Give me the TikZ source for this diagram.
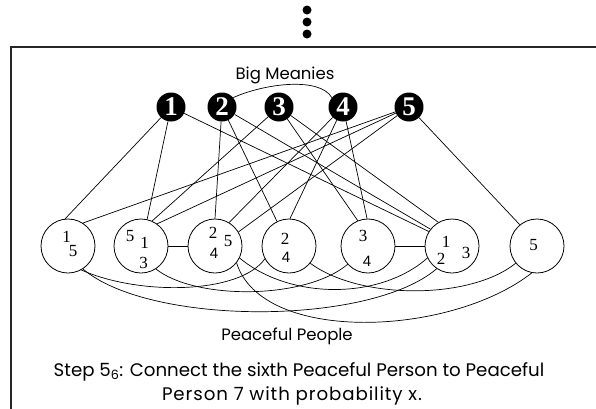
\documentclass[tikz,border=0pt]{standalone}
\usepackage{fontspec}
\setmainfont{Liberation Serif}
\newfontfamily\gothic{Poppins}
\newfontfamily\gothicwide[LetterSpace=5]{Poppins}
\newfontfamily\arialf{Liberation Sans}
\begin{document}
\begin{tikzpicture}[x=1pt,y=-1pt,
  meanie/.style={circle,fill=black,minimum size=29pt,inner sep=0pt,text=white,
                 font=\bfseries\fontsize{27}{27}\selectfont},
  person/.style={circle,draw=black,line width=0.8pt,minimum size=54pt,inner sep=0pt},
  digit/.style={inner sep=0pt,font=\fontsize{17}{17}\selectfont},
  sdigit/.style={inner sep=0pt,font=\arialf\fontsize{15}{15}\selectfont},
  caption/.style={font=\gothic\fontsize{16.5}{24}\selectfont,inner sep=0pt,anchor=base},
  stepline/.style={font=\gothic\fontsize{18.2}{24}\selectfont,inner sep=0pt,anchor=base},
  link/.style={line width=0.7pt},
  dot/.style={circle,fill=black,minimum size=9pt,inner sep=0pt},
]
\useasboundingbox (0,0) rectangle (596,408);

% continuation dots
\node[dot] (d1) at (307,10) {};
\node[dot] (d2) at (307,22) {};
\node[dot] (d3) at (307,34) {};

% open frame
\draw[line width=1.1pt,black!85] (11,410) -- (11,47) -- (598,47);

% big meanies
\node[caption] (bmlabel) at (285,79) {Big Meanies};
\node[meanie] (m1) at (171,107) {1};
\node[meanie] (m2) at (222,107) {2};
\node[meanie] (m3) at (279,107) {3};
\node[meanie] (m4) at (343,107) {4};
\node[meanie] (m5) at (409,107) {5};
\draw[link] (m2.40) .. controls (266,83) and (320,77) .. (m4.140);

% peaceful people
\node[person] (p1) at (68,246) {};
\node[person] (p2) at (141,246) {};
\node[person] (p3) at (215,246) {};
\node[person] (p4) at (289,246) {};
\node[person] (p5) at (368,246) {};
\node[person] (p6) at (452,246) {};
\node[person] (p7) at (537,246) {};

% which meanies each person knows
\node[digit] (p1a) at (66.5,237) {1};
\node[digit] (p1b) at (73,251) {5};
\node[digit] (p2a) at (130,236) {5};
\node[digit] (p2b) at (144.5,242.5) {1};
\node[digit] (p2c) at (143.5,262.5) {3};
\node[digit] (p3a) at (213,232.5) {2};
\node[digit] (p3b) at (228,241.5) {5};
\node[sdigit] (p3c) at (214,253.5) {4};
\node[digit] (p4a) at (285,239) {2};
\node[sdigit] (p4b) at (286,257.5) {4};
\node[digit] (p5a) at (363,235.5) {3};
\node[sdigit] (p5b) at (367,261) {4};
\node[digit] (p6a) at (446,242) {1};
\node[digit] (p6b) at (441,258.5) {2};
\node[digit] (p6c) at (466,253) {3};
\node[digit] (p7a) at (533.5,245.5) {5};

% meanie -- person links
\draw[link] (m1) -- (p1.96);
\draw[link] (m1) -- (p2.77);
\draw[link] (m1) -- (p6.148);
\draw[link] (m2) -- (p3.90);
\draw[link] (m2) -- (p4.116);
\draw[link] (m2) -- (p6.142);
\draw[link] (m3) -- (p2.66);
\draw[link] (m3) -- (p5.112);
\draw[link] (m3) -- (p6.120);
\draw[link] (m4) -- (p3.59);
\draw[link] (m4) -- (p4.88);
\draw[link] (m4) -- (p5.92);
\draw[link] (m5) -- (p1.57);
\draw[link] (m5) -- (p2.54);
\draw[link] (m5) -- (p3.31);
\draw[link] (m5) -- (p7.129);

% person -- person links
\draw[link] (p2) -- (p3);
\draw[link] (p5) -- (p6);
\draw[link] (p1.-61) .. controls (140,296) and (240,294) .. (p4.-152);
\draw[link] (p1.-57) .. controls (150,326) and (370,326) .. (p6.-124);
\draw[link] (p2.-57) .. controls (195,300) and (305,300) .. (p5.-138);
\draw[link] (p3.-38) .. controls (262,344) and (450,337) .. (p7.-101);
\draw[link] (p3.-26) .. controls (290,300) and (380,300) .. (p6.-154);
\draw[link] (p4.-39) .. controls (360,300) and (470,300) .. (p7.-141);

% captions
\node[caption] (pplabel) at (287,340) {Peaceful People};
\node[stepline] (step1) at (299,376) {Step 5\textsubscript{6}: Connect the sixth Peaceful Person to Peaceful};
\node[stepline,font=\gothicwide\fontsize{18.2}{24}\selectfont] (step2) at (292,400) {Person 7 with probability x.};
\end{tikzpicture}
\end{document}
